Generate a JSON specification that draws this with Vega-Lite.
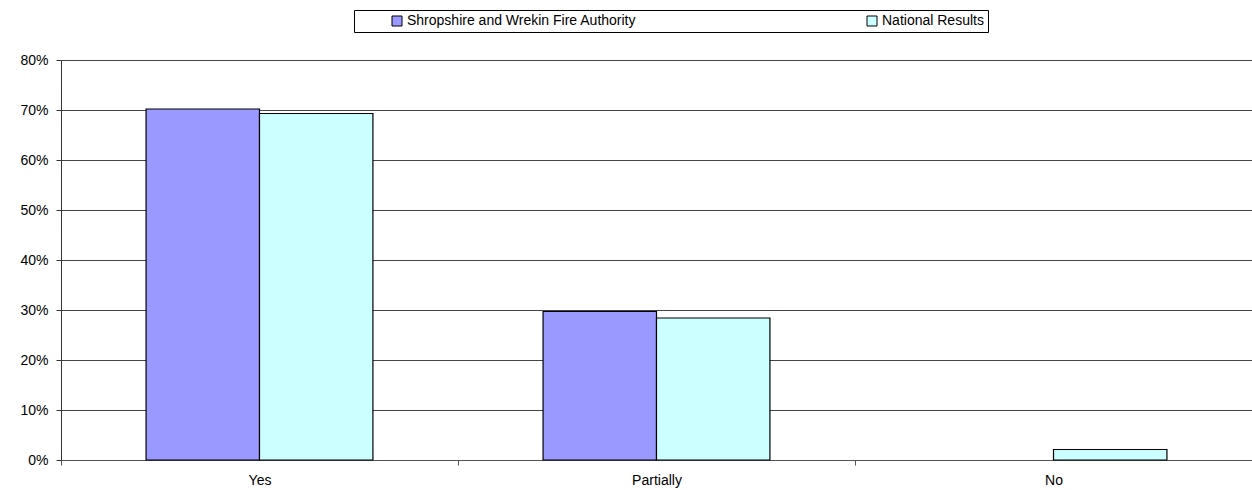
{
  "$schema": "https://vega.github.io/schema/vega-lite/v6.json",
  "autosize": "none",
  "width": 1191,
  "height": 400,
  "padding": {"left": 61, "top": 60, "right": 0, "bottom": 30},
  "background": "white",
  "data": {
    "values": [
      {"answer": "Yes", "series": "Shropshire and Wrekin Fire Authority", "value": 0.702},
      {"answer": "Yes", "series": "National Results", "value": 0.693},
      {"answer": "Partially", "series": "Shropshire and Wrekin Fire Authority", "value": 0.297},
      {"answer": "Partially", "series": "National Results", "value": 0.284},
      {"answer": "No", "series": "Shropshire and Wrekin Fire Authority", "value": 0.0},
      {"answer": "No", "series": "National Results", "value": 0.021}
    ]
  },
  "config": {
    "font": "Liberation Sans",
    "view": {"stroke": null}
  },
  "mark": {"type": "bar", "stroke": "black", "strokeWidth": 1.2},
  "encoding": {
    "x": {
      "field": "answer",
      "type": "nominal",
      "sort": ["Yes", "Partially", "No"],
      "scale": {"paddingInner": 0, "paddingOuter": 0},
      "axis": {
        "title": null,
        "labelAngle": 0,
        "labelFontSize": 14,
        "labelColor": "black",
        "labelPadding": 8,
        "tickBand": "extent",
        "tickSize": 5,
        "tickColor": "#555555",
        "domainColor": "#555555",
        "grid": false
      }
    },
    "xOffset": {
      "field": "series",
      "type": "nominal",
      "sort": ["Shropshire and Wrekin Fire Authority", "National Results"],
      "scale": {"paddingInner": 0, "paddingOuter": 0.75}
    },
    "y": {
      "field": "value",
      "type": "quantitative",
      "scale": {"domain": [0, 0.8], "nice": false},
      "axis": {
        "title": null,
        "format": ".0%",
        "values": [0, 0.1, 0.2, 0.3, 0.4, 0.5, 0.6, 0.7, 0.8],
        "labelFontSize": 14,
        "labelColor": "black",
        "labelPadding": 8,
        "tickSize": 5,
        "tickColor": "#333333",
        "domainColor": "#333333",
        "gridColor": "#444444",
        "gridWidth": 1
      }
    },
    "strokeOpacity": {
      "condition": {"test": "datum.value > 0", "value": 1},
      "value": 0
    },
    "color": {
      "field": "series",
      "type": "nominal",
      "sort": ["Shropshire and Wrekin Fire Authority", "National Results"],
      "scale": {"range": ["#9999FF", "#CCFFFF"]},
      "legend": {
        "title": null,
        "orient": "none",
        "legendX": 293,
        "legendY": -50,
        "direction": "horizontal",
        "symbolType": "square",
        "symbolSize": 100,
        "symbolStrokeColor": "black",
        "symbolStrokeWidth": 1,
        "labelFontSize": 14,
        "labelLimit": 600,
        "labelColor": "black",
        "labelOffset": 3,
        "padding": 4,
        "symbolOffset": 32,
        "columnPadding": 196,
        "strokeColor": "black",
        "fillColor": "white"
      }
    }
  }
}
